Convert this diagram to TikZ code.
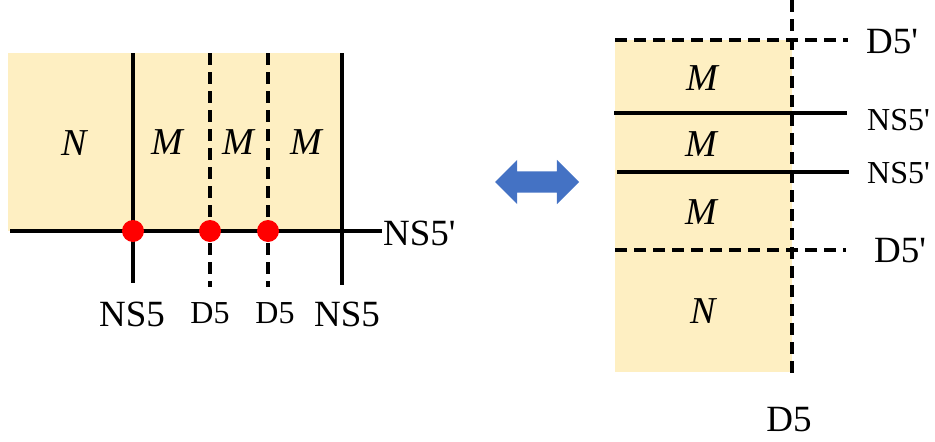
\documentclass[tikz,border=0pt]{standalone}
\usepackage{fontspec}
\setmainfont{Liberation Serif}
\usetikzlibrary{shapes.arrows}
\definecolor{bg}{HTML}{FEEFC2}
\definecolor{ablue}{HTML}{4472C4}
\newcommand{\prm}{\textquotesingle}
\begin{document}
\begin{tikzpicture}[x=1pt,y=-1pt,
  solidline/.style={line width=3.2pt},
  dashline/.style={line width=3.2pt, dash pattern=on 12pt off 7pt},
  lbl/.style={inner sep=0, font=\fontsize{37}{40}\selectfont},
  smalllbl/.style={inner sep=0, font=\fontsize{32}{34}\selectfont},
  rlbl/.style={inner sep=0, font=\fontsize{32}{34}\selectfont},
  ital/.style={inner sep=0, font=\fontsize{38}{40}\selectfont\itshape},
  dot/.style={circle, fill=red, inner sep=0, minimum size=22pt},
  region/.style={fill=bg}]
\useasboundingbox (0,0) rectangle (935,442);

% ---------- left panel ----------
\fill[region] (8,53) rectangle (342,231);
\coordinate (hl) at (10,231);
\coordinate (hr) at (382,231);
\coordinate (a1) at (133,53);  \coordinate (a2) at (133,283);
\coordinate (b1) at (210,53);  \coordinate (b2) at (210,287);
\coordinate (c1) at (268,53);  \coordinate (c2) at (268,287);
\coordinate (d1) at (342,53);  \coordinate (d2) at (342,285);
\draw[solidline] (hl) -- (hr);
\draw[solidline] (a1) -- (a2);
\draw[dashline] (b1) -- (b2);
\draw[dashline] (c1) -- (c2);
\draw[solidline] (d1) -- (d2);
\node[dot] (p1) at (133,231) {};
\node[dot] (p2) at (210,231) {};
\node[dot] (p3) at (268,231) {};

\node[ital] (lN)  at (74,143) {N};
\node[ital] (lM1) at (167,142) {M};
\node[ital] (lM2) at (238,142) {M};
\node[ital] (lM3) at (306,142) {M};

\node[lbl] (ns5a) at (132,314) {NS5};
\node[smalllbl] (d5a) at (210,313) {D5};
\node[smalllbl] (d5b) at (275,313) {D5};
\node[lbl] (ns5b) at (347,314) {NS5};
\node[lbl, anchor=west] (ns5p) at (383,233) {NS5\prm};

% ---------- arrow ----------
\node[double arrow, fill=ablue, inner xsep=0pt, inner ysep=10.5pt,
      minimum height=84pt, double arrow head extend=11.5pt,
      double arrow tip angle=90] (arr) at (537,182) {};

% ---------- right panel ----------
\fill[region] (615,40) rectangle (792,372);
\coordinate (v1) at (792,0);   \coordinate (v2) at (792,373);
\coordinate (t1) at (615,40);  \coordinate (t2) at (848,40);
\coordinate (n1) at (614,113); \coordinate (n2) at (847,113);
\coordinate (m1) at (617,172); \coordinate (m2) at (849,172);
\coordinate (u1) at (615,250); \coordinate (u2) at (846,250);
\draw[dashline] (t1) -- (t2);
\draw[solidline] (n1) -- (n2);
\draw[solidline] (m1) -- (m2);
\draw[dashline] (u1) -- (u2);
\draw[dashline] (v1) -- (v2);

\node[ital] (rM1) at (702,78) {M};
\node[ital] (rM2) at (701,144) {M};
\node[ital] (rM3) at (701,212) {M};
\node[ital] (rN)  at (703,311) {N};

\node[lbl, anchor=west] (rd5t) at (866,42) {D5\prm};
\node[rlbl, anchor=west] (rns1) at (867,120) {NS5\prm};
\node[rlbl, anchor=west] (rns2) at (867,173) {NS5\prm};
\node[lbl, anchor=west] (rd5u) at (874,251) {D5\prm};
\node[lbl] (rd5) at (789,420) {D5};
\end{tikzpicture}
\end{document}
